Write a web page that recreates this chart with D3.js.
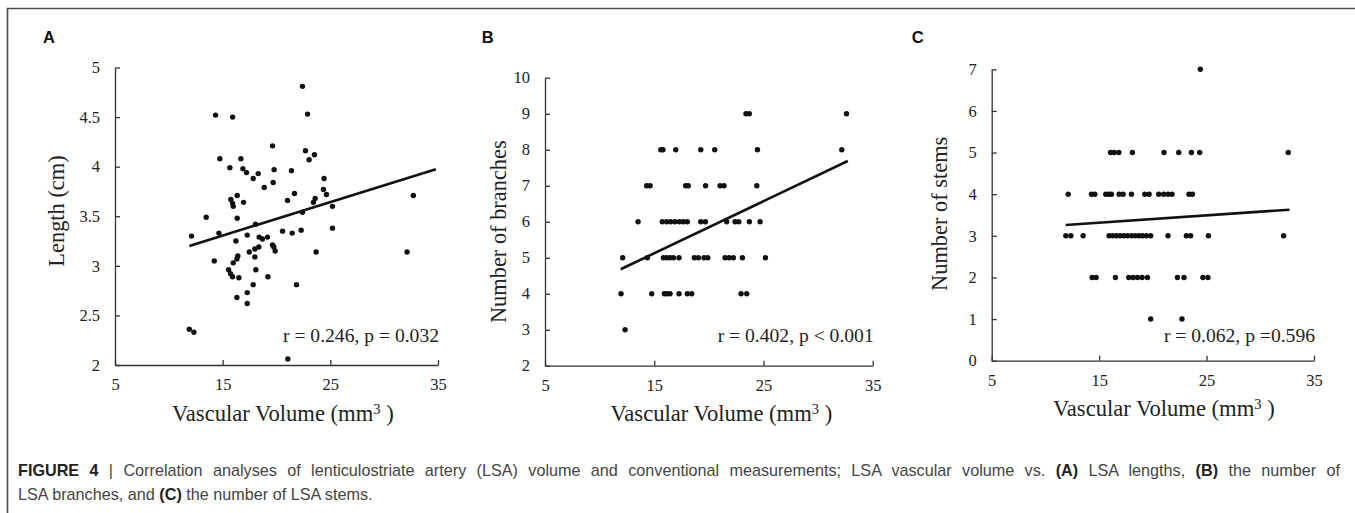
<!DOCTYPE html>
<html>
<head>
<meta charset="utf-8">
<script src="https://cdn.jsdelivr.net/npm/d3@7"></script>
<style>
	body { margin: 0; background: #fff; }
	svg { display: block; }
</style>
</head>
<body>
<script>
// ---------------------------- data -----------------------------------

// A: LSA length (cm) vs vascular volume (mm3)
var volA = [12.11, 11.90, 12.33, 13.47, 14.34, 14.74, 14.65, 14.22, 15.92, 15.67,
	15.76, 15.92, 15.98, 16.35, 16.35, 16.23, 15.98, 15.55, 15.73, 15.92,
	16.51, 16.41, 16.32, 16.32, 16.69, 16.88, 17.22, 16.94, 17.28, 17.28,
	17.28, 17.84, 18.30, 18.05, 17.47, 17.99, 17.99, 18.36, 18.08, 17.84,
	18.86, 18.39, 18.70, 19.17, 19.20, 19.63, 19.78, 19.69, 19.63, 19.75,
	19.88, 20.56, 21.02, 21.39, 21.46, 21.67, 21.86, 21.05, 22.29, 22.41,
	22.41, 22.69, 22.88, 23.03, 23.53, 23.59, 23.43, 23.68, 24.42, 24.36,
	24.64, 25.20, 25.20, 32.13, 32.71];
var lenA = [3.30, 2.36, 2.33, 3.49, 4.52, 4.08, 3.33, 3.05, 4.50, 3.99,
	3.67, 3.63, 3.60, 3.71, 3.48, 3.25, 3.03, 2.96, 2.92, 2.89,
	2.88, 3.10, 3.07, 2.68, 4.08, 3.98, 3.94, 3.64, 3.31, 2.73,
	2.62, 3.88, 3.93, 3.42, 3.14, 3.17, 3.09, 3.19, 2.96, 2.81,
	3.79, 3.29, 3.27, 3.29, 2.89, 4.21, 3.97, 3.84, 3.21, 3.19,
	3.15, 3.35, 3.66, 3.96, 3.33, 3.73, 2.81, 2.06, 3.36, 3.54,
	4.81, 4.16, 4.53, 4.07, 4.12, 3.68, 3.64, 3.14, 3.88, 3.77,
	3.72, 3.60, 3.38, 3.14, 3.71];

// B: number of branches vs vascular volume
var volB = [23.4, 23.7, 32.6,
	15.6, 15.8, 16.97, 19.26, 20.54, 24.45, 32.17,
	14.31, 14.62, 17.88, 18.12, 19.7, 21.03, 21.39, 24.39,
	13.52, 15.74, 16.14, 16.5, 16.9, 17.3, 17.66, 18.03, 19.26, 19.68, 21.63, 22.4, 22.74, 23.71, 24.69,
	12.11, 14.37, 15.84, 16.15, 16.45, 16.76, 17.27, 18.67, 19.04, 19.56, 19.9, 21.48, 21.85, 22.24, 23.07, 25.18,
	11.96, 14.77, 15.93, 16.17, 16.45, 17.27, 18.03, 18.43, 22.95, 23.47,
	12.33];
var branchB = [9, 9, 9,
	8, 8, 8, 8, 8, 8, 8,
	7, 7, 7, 7, 7, 7, 7, 7,
	6, 6, 6, 6, 6, 6, 6, 6, 6, 6, 6, 6, 6, 6, 6,
	5, 5, 5, 5, 5, 5, 5, 5, 5, 5, 5, 5, 5, 5, 5, 5,
	4, 4, 4, 4, 4, 4, 4, 4, 4, 4,
	3];

// C: number of stems vs vascular volume
var volC = [24.42,
	16.06, 16.4, 16.83, 18.1, 21.04, 22.41, 23.59, 24.36, 32.6,
	12.12, 14.29, 14.6, 15.62, 15.9, 16.15, 16.86, 17.23, 18.01, 19.25, 19.65, 20.55, 21.01, 21.41, 21.79, 23.36, 23.68,
	11.9, 12.37, 13.51, 15.93, 16.27, 16.62, 16.95, 17.3, 17.64, 18.01, 18.35, 18.69, 19.03, 19.4, 19.8, 21.41, 23.12, 23.52, 25.17, 32.17,
	14.35, 14.72, 16.52, 17.76, 18.16, 18.57, 19.0, 19.5, 22.29, 22.9, 24.66, 25.13,
	19.8, 22.71];
var stemC = [7,
	5, 5, 5, 5, 5, 5, 5, 5, 5,
	4, 4, 4, 4, 4, 4, 4, 4, 4, 4, 4, 4, 4, 4, 4, 4, 4,
	3, 3, 3, 3, 3, 3, 3, 3, 3, 3, 3, 3, 3, 3, 3, 3, 3, 3, 3, 3,
	2, 2, 2, 2, 2, 2, 2, 2, 2, 2, 2, 2,
	1, 1];

// fitted lines as drawn in the figure: [x0, y0, x1, y1]
var fitA = [11.9, 3.20, 34.8, 3.975];
var fitB = [11.93, 4.68, 32.72, 7.685];
var fitC = [11.88, 3.26, 32.72, 3.627];

var volTicks = [5, 15, 25, 35];
var lenTicks = [2, 2.5, 3, 3.5, 4, 4.5, 5];
var branchTicks = [2, 3, 4, 5, 6, 7, 8, 9, 10];
var stemTicks = [0, 1, 2, 3, 4, 5, 6, 7];

var statA = 'r = 0.246, p = 0.032';
var statB = 'r = 0.402, p < 0.001';
var statC = 'r = 0.062, p =0.596';

// ---------------------------- layout -----------------------------------

var W = 1355, H = 513;
var serif = '"Liberation Serif", "Times New Roman", serif';
var sans = '"Liberation Sans", Arial, Helvetica, sans-serif';

var panels = [
	{ label: 'A', xs: volA, ys: lenA, yTicks: lenTicks, fit: fitA, stat: statA, yTitle: 'Length (cm)',
		left: 115, right: 438, top: 67.5, bottom: 365, labelX: 43, yTitleX: 63.5, yTitleY: 211, xTitleX: 172 },
	{ label: 'B', xs: volB, ys: branchB, yTicks: branchTicks, fit: fitB, stat: statB, yTitle: 'Number of branches',
		left: 545, right: 872.7, top: 77.7, bottom: 365.7, labelX: 481.7, yTitleX: 506, yTitleY: 231.7, xTitleX: 610.5 },
	{ label: 'C', xs: volC, ys: stemC, yTicks: stemTicks, fit: fitC, stat: statC, yTitle: 'Number of stems',
		left: 991.7, right: 1314, top: 69.3, bottom: 360.7, labelX: 911.7, yTitleX: 946.5, yTitleY: 213.8, xTitleX: 1053 }
];

var svg = d3.select('body').append('svg').attr('width', W).attr('height', H);
svg.append('rect').attr('width', W).attr('height', H).attr('fill', '#fff');

// figure frame (top and left rules)
svg.append('path').attr('d', 'M7.5,' + H + 'V8.5H' + W)
	.attr('fill', 'none').attr('stroke', '#4d4d4d').attr('stroke-width', 1.6);

panels.forEach(function(p) {
	var x = d3.scaleLinear().domain([volTicks[0], volTicks[volTicks.length - 1]]).range([p.left, p.right]);
	var y = d3.scaleLinear().domain([p.yTicks[0], p.yTicks[p.yTicks.length - 1]]).range([p.bottom, p.top]);
	var g = svg.append('g');

	var gx = g.append('g').attr('transform', 'translate(0,' + p.bottom + ')')
		.call(d3.axisBottom(x).tickValues(volTicks).tickSize(-5).tickSizeOuter(0).tickFormat(String));
	gx.selectAll('text').attr('y', 25).attr('dy', null);

	var gy = g.append('g').attr('transform', 'translate(' + p.left + ',0)')
		.call(d3.axisLeft(y).tickValues(p.yTicks).tickSize(-5).tickSizeOuter(0).tickFormat(String));
	gy.selectAll('text').attr('x', -15);

	[gx, gy].forEach(function(a) {
		a.attr('font-family', serif).attr('font-size', 16.5);
		a.select('.domain').attr('stroke', '#333').attr('stroke-width', 1.3);
		a.selectAll('.tick line').attr('stroke', '#333').attr('stroke-width', 1.3);
		a.selectAll('text').attr('fill', '#222');
	});

	// points
	g.append('g').selectAll('circle').data(p.xs).enter().append('circle')
		.attr('cx', function(d) { return x(d); })
		.attr('cy', function(d, i) { return y(p.ys[i]); })
		.attr('r', 2.7)
		.attr('fill', '#111');

	// fitted line
	g.append('line')
		.attr('x1', x(p.fit[0])).attr('y1', y(p.fit[1]))
		.attr('x2', x(p.fit[2])).attr('y2', y(p.fit[3]))
		.attr('stroke', '#111').attr('stroke-width', 2.6);

	// r / p annotation
	g.append('text').attr('x', p.right + 1).attr('y', 342.3)
		.attr('text-anchor', 'end').attr('font-family', serif).attr('font-size', 19.6)
		.attr('fill', '#222').text(p.stat);

	// axis titles
	var xt = g.append('text').attr('x', p.xTitleX).attr('y', p.bottom + 55.5)
		.attr('font-family', serif).attr('font-size', 22.6).attr('fill', '#222');
	xt.append('tspan').text('Vascular Volume (mm');
	xt.append('tspan').attr('dy', -7).attr('font-size', 14.5).text('3');
	xt.append('tspan').attr('dy', 7).text(' )');

	g.append('text')
		.attr('transform', 'translate(' + p.yTitleX + ',' + p.yTitleY + ') rotate(-90)')
		.attr('text-anchor', 'middle').attr('font-family', serif).attr('font-size', 22.4)
		.attr('fill', '#222').text(p.yTitle);

	// panel letter
	g.append('text').attr('x', p.labelX).attr('y', 43.3)
		.attr('font-family', sans).attr('font-weight', 'bold').attr('font-size', 16.5)
		.attr('fill', '#111').text(p.label);
});

// ---------------------------- caption -----------------------------------

var captionLines = [
	[['FIGURE 4', true], [' | Correlation analyses of lenticulostriate artery (LSA) volume and conventional measurements; LSA vascular volume vs. ', false],
		['(A)', true], [' LSA lengths, ', false], ['(B)', true], [' the number of', false]],
	[['LSA branches, and ', false], ['(C)', true], [' the number of LSA stems.', false]]
];
var captionLeft = 18, captionRight = 1340;

captionLines.forEach(function(line, i) {
	var t = svg.append('text').attr('x', captionLeft).attr('y', 475.5 + i * 24)
		.attr('font-family', sans).attr('font-size', 16.2).attr('fill', '#444');
	line.forEach(function(part) {
		t.append('tspan').attr('font-weight', part[1] ? 'bold' : null)
			.attr('fill', part[1] ? '#222' : null).text(part[0]);
	});
	// the caption is justified: stretch the word gaps of every line but the last
	if (i < captionLines.length - 1) {
		var full = line.map(function(part) { return part[0]; }).join('');
		var gaps = full.split(' ').length - 1;
		var extra = (captionRight - captionLeft) - t.node().getComputedTextLength();
		t.attr('word-spacing', Math.max(0, extra / gaps));
	}
});
</script>
</body>
</html>
